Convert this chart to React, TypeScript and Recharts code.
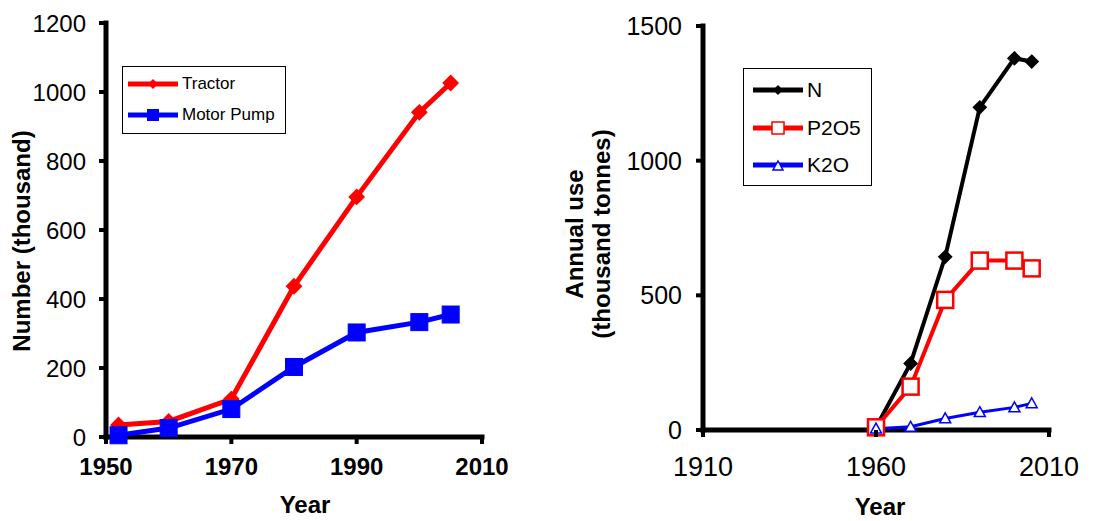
import { LineChart, Line, XAxis, YAxis, ReferenceLine } from 'recharts';

// left panel: machinery (thousand units)
const machineYears = [1952, 1960, 1970, 1980, 1990, 2000, 2005];
const tractor = [35, 45, 110, 437, 696, 941, 1026];
const motorPump = [5, 26, 81, 203, 303, 333, 355];
const machineXTicks = [1950, 1970, 1990, 2010];
const machineYTicks = [0, 200, 400, 600, 800, 1000, 1200];

// right panel: fertiliser use (thousand tonnes)
const fertYears = [1960, 1970, 1980, 1990, 2000, 2005];
const nitrogen = [10, 247, 643, 1198, 1380, 1368];
const phosphate = [10, 161, 483, 629, 629, 600];
const potash = [5, 12, 43, 66, 84, 99];
const fertXTicks = [1910, 1960, 2010];
const fertYTicks = [0, 500, 1000, 1500];

const machineData = machineYears.map((year, i) => ({
  year,
  tractor: tractor[i],
  motorPump: motorPump[i],
}));

const fertData = fertYears.map((year, i) => ({
  year,
  N: nitrogen[i],
  P2O5: phosphate[i],
  K2O: potash[i],
}));

const FONT = '"Liberation Sans", Arial, sans-serif';
const TICK_SIZE = 7;

const diamond = (cx: number, cy: number, r: number) =>
  `M${cx},${cy - r}L${cx + r},${cy}L${cx},${cy + r}L${cx - r},${cy}Z`;

const triangle = (cx: number, cy: number, r: number) =>
  `M${cx},${cy - r}L${cx + r},${cy + r * 0.8}L${cx - r},${cy + r * 0.8}Z`;

const DiamondDot = (color: string, r: number) => (p: any) =>
  <path key={`d-${p.index}`} d={diamond(p.cx, p.cy, r)} fill={color} stroke={color} strokeWidth={2} />;

const SquareDot = (stroke: string, fill: string, s: number, sw: number) => (p: any) =>
  (
    <rect
      key={`s-${p.index}`}
      x={p.cx - s / 2}
      y={p.cy - s / 2}
      width={s}
      height={s}
      fill={fill}
      stroke={stroke}
      strokeWidth={sw}
    />
  );

const TriangleDot = (color: string, r: number) => (p: any) =>
  <path key={`t-${p.index}`} d={triangle(p.cx, p.cy, r)} fill="#fff" stroke={color} strokeWidth={1.5} />;

// thick tick marks drawn together with their labels
const BottomTick = (margin: number, fontSize: number, bold: boolean) => (p: any) =>
  (
    <g>
      <line
        x1={p.x}
        x2={p.x}
        y1={p.y - margin - TICK_SIZE}
        y2={p.y - margin}
        stroke="#000"
        strokeWidth={4}
      />
      <text
        x={p.x}
        y={p.y}
        dy="0.71em"
        textAnchor="middle"
        fill="#000"
        fontSize={fontSize}
        fontWeight={bold ? 'bold' : 'normal'}
        fontFamily={FONT}
      >
        {p.payload.value}
      </text>
    </g>
  );

const LeftTick = (margin: number, fontSize: number) => (p: any) =>
  (
    <g>
      <line
        x1={p.x + margin}
        x2={p.x + margin + TICK_SIZE}
        y1={p.y}
        y2={p.y}
        stroke="#000"
        strokeWidth={4}
      />
      <text x={p.x} y={p.y} dy="0.355em" textAnchor="end" fill="#000" fontSize={fontSize} fontFamily={FONT}>
        {p.payload.value}
      </text>
    </g>
  );

function LegendRow({
  color,
  label,
  marker,
  fontSize,
  width,
}: {
  color: string;
  label: string;
  marker: 'diamond' | 'square' | 'hollowSquare' | 'triangle';
  fontSize: number;
  width: number;
}) {
  const mid = width / 2;
  return (
    <div style={{ display: 'flex', alignItems: 'center', height: fontSize * 1.8 }}>
      <svg width={width} height={20} style={{ marginRight: 4 }}>
        <line x1={0} y1={10} x2={width} y2={10} stroke={color} strokeWidth={5} />
        {marker === 'diamond' && <path d={diamond(mid, 10, 5)} fill={color} />}
        {marker === 'square' && <rect x={mid - 6} y={4} width={12} height={12} fill={color} />}
        {marker === 'hollowSquare' && (
          <rect x={mid - 6} y={4} width={12} height={12} fill="#fff" stroke={color} strokeWidth={1.5} />
        )}
        {marker === 'triangle' && <path d={triangle(mid, 11, 5)} fill="#fff" stroke={color} strokeWidth={1.5} />}
      </svg>
      <span style={{ fontSize, color: '#000' }}>{label}</span>
    </div>
  );
}

export default function App() {
  return (
    <div
      style={{
        position: 'absolute',
        left: 0,
        top: 0,
        width: 1108,
        height: 521,
        background: '#fff',
        fontFamily: FONT,
        overflow: 'hidden',
      }}
    >
      {/* left panel */}
      <div style={{ position: 'absolute', left: 0, top: 0 }}>
        <LineChart width={540} height={521} data={machineData} margin={{ top: 23, right: 58, left: 26, bottom: 24 }}>
          <XAxis
            dataKey="year"
            type="number"
            domain={[1950, 2010]}
            ticks={machineXTicks}
            interval={0}
            height={60}
            axisLine={false}
            tickLine={false}
            tickSize={TICK_SIZE}
            tickMargin={14}
            tick={BottomTick(14, 24, true)}
          />
          <YAxis
            type="number"
            domain={[0, 1200]}
            ticks={machineYTicks}
            interval={0}
            width={80}
            axisLine={false}
            tickLine={false}
            tickSize={TICK_SIZE}
            tickMargin={13}
            tick={LeftTick(13, 24)}
          />
          <ReferenceLine x={1950} stroke="#000" strokeWidth={5} strokeLinecap="square" />
          <ReferenceLine y={0} stroke="#000" strokeWidth={5} strokeLinecap="square" />
          <Line
            type="linear"
            dataKey="tractor"
            stroke="#ff0000"
            strokeWidth={5}
            dot={DiamondDot('#ff0000', 7)}
            isAnimationActive={false}
          />
          <Line
            type="linear"
            dataKey="motorPump"
            stroke="#0000ff"
            strokeWidth={5}
            dot={SquareDot('#0000ff', '#0000ff', 17, 1)}
            isAnimationActive={false}
          />
        </LineChart>
      </div>

      {/* right panel */}
      <div style={{ position: 'absolute', left: 560, top: 0 }}>
        <LineChart width={548} height={521} data={fertData} margin={{ top: 26, right: 59, left: 63, bottom: 31 }}>
          <XAxis
            dataKey="year"
            type="number"
            domain={[1910, 2010]}
            ticks={fertXTicks}
            interval={0}
            height={60}
            axisLine={false}
            tickLine={false}
            tickSize={TICK_SIZE}
            tickMargin={20}
            tick={BottomTick(20, 27, false)}
          />
          <YAxis
            type="number"
            domain={[0, 1500]}
            ticks={fertYTicks}
            interval={0}
            width={80}
            axisLine={false}
            tickLine={false}
            tickSize={TICK_SIZE}
            tickMargin={14}
            tick={LeftTick(14, 25)}
          />
          <ReferenceLine x={1910} stroke="#000" strokeWidth={5} strokeLinecap="square" />
          <ReferenceLine y={0} stroke="#000" strokeWidth={5} strokeLinecap="square" />
          <Line
            type="linear"
            dataKey="N"
            stroke="#000"
            strokeWidth={4}
            dot={DiamondDot('#000', 6)}
            isAnimationActive={false}
          />
          <Line
            type="linear"
            dataKey="P2O5"
            stroke="#ff0000"
            strokeWidth={4}
            dot={SquareDot('#ff0000', '#fff', 16, 2.5)}
            isAnimationActive={false}
          />
          <Line
            type="linear"
            dataKey="K2O"
            stroke="#0000ff"
            strokeWidth={3}
            dot={TriangleDot('#0000ff', 5.5)}
            isAnimationActive={false}
          />
        </LineChart>
      </div>

      {/* axis titles */}
      <div
        style={{
          position: 'absolute',
          left: 22,
          top: 241,
          transform: 'translate(-50%, -50%) rotate(-90deg)',
          whiteSpace: 'nowrap',
          fontSize: 24,
          fontWeight: 'bold',
        }}
      >
        Number (thousand)
      </div>
      <div
        style={{
          position: 'absolute',
          left: 305,
          top: 505,
          transform: 'translate(-50%, -50%)',
          fontSize: 24,
          fontWeight: 'bold',
        }}
      >
        Year
      </div>
      <div
        style={{
          position: 'absolute',
          left: 588,
          top: 234,
          transform: 'translate(-50%, -50%) rotate(-90deg)',
          whiteSpace: 'nowrap',
          fontSize: 24,
          fontWeight: 'bold',
          textAlign: 'center',
          lineHeight: '27px',
        }}
      >
        Annual use
        <br />
        (thousand tonnes)
      </div>
      <div
        style={{
          position: 'absolute',
          left: 880,
          top: 507,
          transform: 'translate(-50%, -50%)',
          fontSize: 24,
          fontWeight: 'bold',
        }}
      >
        Year
      </div>

      {/* legends */}
      <div
        style={{
          position: 'absolute',
          left: 122,
          top: 66,
          width: 164,
          height: 68,
          boxSizing: 'border-box',
          border: '1.5px solid #000',
          padding: '2px 0 0 5px',
        }}
      >
        <LegendRow color="#ff0000" label="Tractor" marker="diamond" fontSize={17} width={50} />
        <LegendRow color="#0000ff" label="Motor Pump" marker="square" fontSize={17} width={50} />
      </div>
      <div
        style={{
          position: 'absolute',
          left: 743,
          top: 68,
          width: 129,
          height: 118,
          boxSizing: 'border-box',
          border: '1.5px solid #000',
          padding: '2px 0 0 9px',
        }}
      >
        <LegendRow color="#000" label="N" marker="diamond" fontSize={21} width={50} />
        <LegendRow color="#ff0000" label="P2O5" marker="hollowSquare" fontSize={21} width={50} />
        <LegendRow color="#0000ff" label="K2O" marker="triangle" fontSize={21} width={50} />
      </div>
    </div>
  );
}
